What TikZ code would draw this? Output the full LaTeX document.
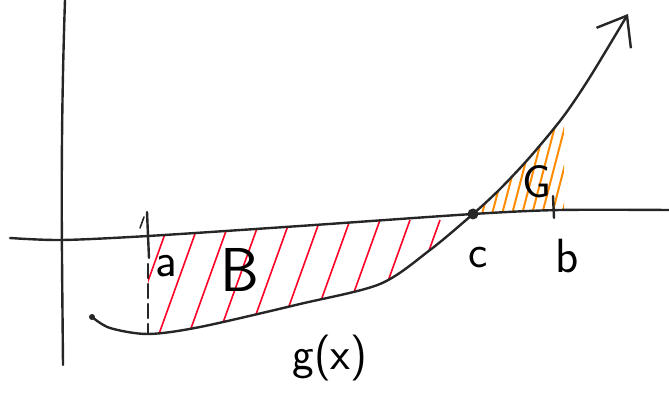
\documentclass[tikz,border=0pt]{standalone}
\usepackage{fontspec}
\usetikzlibrary{arrows.meta}
\tikzset{
  pen/.style = {
    line width=2.4pt,
    black!85,
    line cap=round,
    line join=round
  },
  redhatch/.style = {
    line width=1.6pt,
    red!85!magenta
  },
  orangehatch/.style = {
    line width=2pt,
    orange!90!yellow
  },
  hand/.style = {
    font=\sffamily\fontsize{#1}{#1}\selectfont,
    inner sep=0pt
  }
}
\begin{document}
\begin{tikzpicture}[x=1pt,y=-1pt]
\useasboundingbox (0,0) rectangle (669,411);

% Punkte
\coordinate (pa) at (148,236);
\coordinate (pc) at (473,214);
\coordinate (pb) at (553,211);

% Schraffur B
\begin{scope}
\clip (pa) -- (300,226) -- (pc) -- plot[smooth] coordinates {(473,214) (430,250) (380,284) (300,304) (200,327) (148,334)} -- cycle;
\foreach \x in {125,155,...,485}
  \draw[redhatch] (\x,345) -- ++(45,-125);
\end{scope}

% Schraffur G
\begin{scope}
\clip (pc) -- (564,210) -- (564,118) -- (563,119) -- (530,159) -- (500,190) -- cycle;
\foreach \x in {450,460,...,560}
  \draw[orangehatch] (\x,222) -- ++(30,-115);
\end{scope}

% Achsen
\draw[pen] (65,0) .. controls (60,150) and (62,250) .. (63,365);
\draw[pen] plot[smooth] coordinates {(10,238) (62,240) (148,236) (300,226) (473,214) (560,210) (669,210)};

% Markierungen
\draw[pen] (147,212) -- (149,258);
\draw[pen, line width=1.6pt] (140,228) -- (144,217);
\draw[pen, dash pattern=on 14pt off 6pt] (148,264) -- (148,334);
\draw[pen] (553,196) -- (554,218);

% Kurve g(x)
\fill[black!85] (92,317) circle (3);
\draw[pen, -{Straight Barb[length=26pt,width=40pt,line width=2.4pt]}] plot[smooth, tension=0.5] coordinates {(92,317) (110,328) (148,334) (200,327) (300,304) (380,284) (430,250) (473,214) (500,189) (530,157) (563,117) (590,77) (628,14)};
\fill[black!85] (pc) circle (5.5);

% Beschriftung
\node[hand=48] (la) at (166,266) {a};
\node[hand=62] (lB) at (240,270) {B};
\node[hand=46] (lc) at (478,258) {c};
\node[hand=48] (lb) at (567,256) {b};
\node[hand=46] (lG) at (537,182) {G};
\node[hand=46] (lg) at (330,358) {g(x)};

\end{tikzpicture}
\end{document}
